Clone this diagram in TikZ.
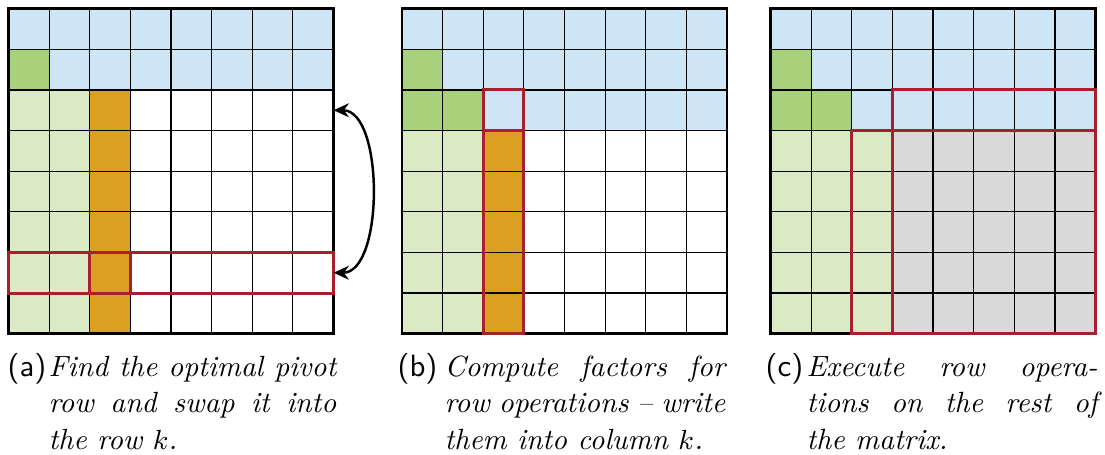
\documentclass[tikz,border=0pt]{standalone}
\usetikzlibrary{arrows.meta}
\definecolor{fillTop}{HTML}{CDE5F5}
\definecolor{fillPivot}{HTML}{A9D07A}
\definecolor{fillLower}{HTML}{D9EAC5}
\definecolor{fillColumn}{HTML}{DBA020}
\definecolor{fillRest}{HTML}{D9D9D9}
\definecolor{borderMark}{HTML}{A8202E}

\begin{document}
\begin{tikzpicture}[
    x=0.325pt, y=-0.325pt,
    cellgrid/.style={line width=0.4pt, black},
    frame/.style={line width=0.8pt, black},
    markbox/.style={line width=1pt, draw=borderMark},
    swaparrow/.style={thick, {Stealth[length=5pt, width=4.5pt]}-{Stealth[length=5pt, width=4.5pt]}},
    sublabel/.style={font=\sffamily, inner sep=0pt},
    subtext/.style={font=\fontsize{9.5}{12}\selectfont\itshape, inner sep=0pt, align=justify}
]
    \useasboundingbox (0,0) rectangle (1105,455);

    % ==========================================
    % (a) pivot search and row swap
    % ==========================================
    \begin{scope}[shift={(8.5,8.7)}, x=13.203pt, y=-13.203pt]
        \fill[fillTop] (0,0) rectangle (8,1);
        \fill[fillTop] (1,1) rectangle (8,2);
        \fill[fillPivot] (0,1) rectangle (1,2);
        \fill[fillLower] (0,2) rectangle (2,8);
        \fill[fillColumn] (2,2) rectangle (3,8);
        \foreach \i in {1,...,7} {
            \draw[cellgrid] (\i,0) -- (\i,8);
            \draw[cellgrid] (0,\i) -- (8,\i);
        }
        \draw[frame] (0,0) rectangle (8,8);
        \draw[markbox] (0,6) rectangle (8,7);
        \draw[markbox] (2,6) rectangle (3,7);
        \coordinate (swaptop) at (8,2.5);
        \coordinate (swapbot) at (8,6.5);
    \end{scope}

    % swap arrow
    \draw[swaparrow] (swaptop) to[out=0, in=0, looseness=0.8] (swapbot);

    % ==========================================
    % (b) factors into column k
    % ==========================================
    \begin{scope}[shift={(402,8.7)}, x=13.203pt, y=-13.203pt]
        \fill[fillTop] (0,0) rectangle (8,1);
        \fill[fillTop] (1,1) rectangle (8,2);
        \fill[fillTop] (2,2) rectangle (8,3);
        \fill[fillPivot] (0,1) rectangle (1,2);
        \fill[fillPivot] (0,2) rectangle (2,3);
        \fill[fillLower] (0,3) rectangle (2,8);
        \fill[fillColumn] (2,3) rectangle (3,8);
        \foreach \i in {1,...,7} {
            \draw[cellgrid] (\i,0) -- (\i,8);
            \draw[cellgrid] (0,\i) -- (8,\i);
        }
        \draw[frame] (0,0) rectangle (8,8);
        \draw[markbox] (2,2) rectangle (3,3);
        \draw[markbox] (2,3) rectangle (3,8);
    \end{scope}

    % ==========================================
    % (c) update of the remaining block
    % ==========================================
    \begin{scope}[shift={(770.5,8.7)}, x=13.203pt, y=-13.203pt]
        \fill[fillTop] (0,0) rectangle (8,1);
        \fill[fillTop] (1,1) rectangle (8,2);
        \fill[fillTop] (2,2) rectangle (8,3);
        \fill[fillPivot] (0,1) rectangle (1,2);
        \fill[fillPivot] (0,2) rectangle (2,3);
        \fill[fillLower] (0,3) rectangle (3,8);
        \fill[fillRest] (3,3) rectangle (8,8);
        \foreach \i in {1,...,7} {
            \draw[cellgrid] (\i,0) -- (\i,8);
            \draw[cellgrid] (0,\i) -- (8,\i);
        }
        \draw[frame] (0,0) rectangle (8,8);
        \draw[markbox] (3,2) rectangle (8,3);
        \draw[markbox] (2,3) rectangle (3,8);
        \draw[markbox] (3,3) rectangle (8,8);
    \end{scope}

    % ==========================================
    % captions
    % ==========================================
    \node[sublabel, anchor=base west] (labA) at (7,376) {(a)};
    \node[subtext, text width=93.5pt, anchor=base west] (capA) at (48,376)
        {Find the optimal pivot\linebreak row and swap it into\linebreak the row $k$.};

    \node[sublabel, anchor=base west] (labB) at (397,376) {(b)};
    \node[subtext, text width=91.2pt, anchor=base west] (capB) at (444,376)
        {Compute factors for\linebreak row operations -- write\linebreak them into column $k$.};

    \node[sublabel, anchor=base west] (labC) at (765,376) {(c)};
    \node[subtext, text width=94.6pt, anchor=base west] (capC) at (806,376)
        {Execute row opera-\linebreak tions on the rest of\linebreak the matrix.};

\end{tikzpicture}
\end{document}
